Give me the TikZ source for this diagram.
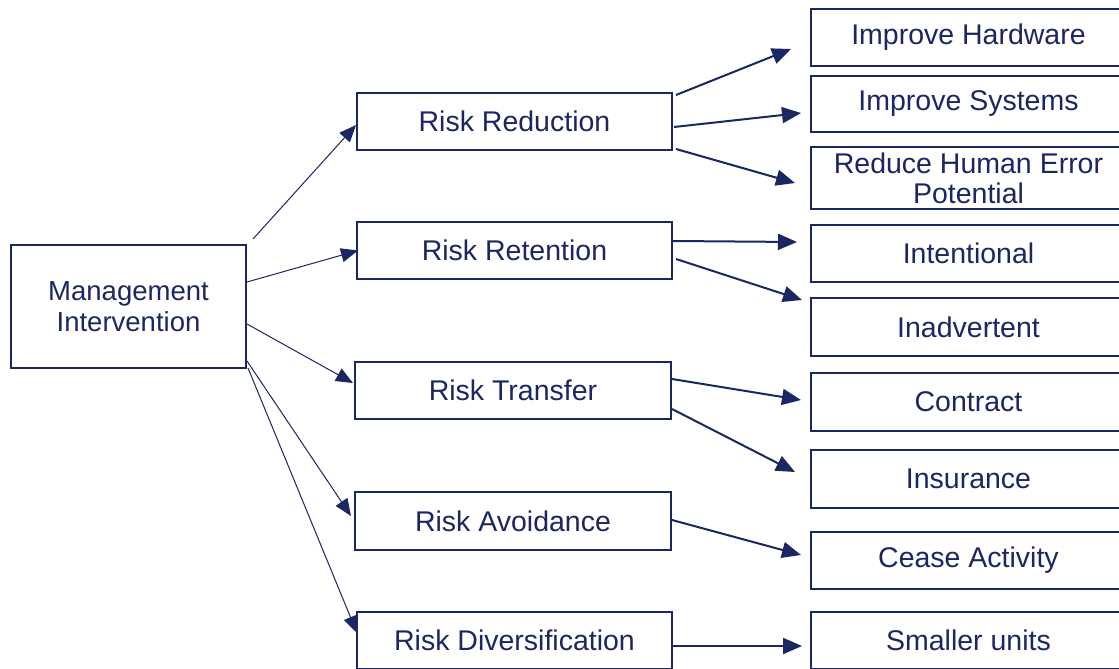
\documentclass[tikz,border=0pt]{standalone}
\usepackage{fontspec}
\setmainfont{Liberation Sans}
\usetikzlibrary{arrows.meta}
\definecolor{navy}{RGB}{27,38,98}
\begin{document}
\begin{tikzpicture}[x=1pt,y=-1pt,
  box/.style={draw=navy,line width=2pt,rectangle,inner sep=0pt,align=center,
    text=navy,font=\fontsize{28.5}{30}\selectfont},
  mid/.style={box,minimum width=315pt,minimum height=57pt},
  rgt/.style={box,minimum width=315pt,minimum height=57pt},
  thinarr/.style={draw=navy,line width=1pt,-{Triangle[length=17pt,width=14pt]}},
  thickarr/.style={draw=navy,line width=2pt,-{Triangle[length=19pt,width=16pt]}}]
\useasboundingbox (0,0) rectangle (1119,669);
\clip (0,0) rectangle (1119,669);
\fill[white] (0,0) rectangle (1119,669);
% left
\node[box,minimum width=235pt,minimum height=123pt,font=\fontsize{27.5}{31}\selectfont] (mgmt) at (128.5,306.5) {Management\\Intervention};
% middle
\node[mid] (rred) at (514.5,121.5) {Risk Reduction};
\node[mid] (rret) at (514.5,250.5) {Risk Retention};
\node[mid,minimum width=316pt] (rtra) at (513,390.5) {Risk Transfer};
\node[mid,minimum width=316pt,minimum height=58pt] (ravo) at (513,521) {Risk Avoidance};
\node[mid] (rdiv) at (514.5,640.5) {Risk Diversification};
% right
\node[rgt] (hw) at (968.5,37.5) {Improve Hardware};
\node[rgt,minimum height=56pt] (sys) at (968.5,104) {Improve Systems};
\node[rgt,minimum height=62pt] (hum) at (968.5,178) {Reduce Human Error\\Potential};
\node[rgt] (int) at (968.5,253.5) {Intentional};
\node[rgt,minimum height=58pt] (inad) at (968.5,327) {Inadvertent};
\node[rgt,minimum height=58pt] (con) at (968.5,402) {Contract};
\node[rgt,minimum height=58pt] (ins) at (968.5,479) {Insurance};
\node[rgt] (cea) at (968.5,560.5) {Cease Activity};
\node[rgt] (sma) at (968.5,640.5) {Smaller units};
% connectors from management
\draw[thinarr] ([shift={(6,-5)}]mgmt.north east) -- ([shift={(0,3.5)}]rred.west);
\draw[thinarr] ([shift={(0,-24.5)}]mgmt.east) -- ([shift={(2,0)}]rret.west);
\draw[thinarr] ([shift={(0,17.5)}]mgmt.east) -- ([shift={(-1,-7.5)}]rtra.west);
\draw[thinarr] ([shift={(0,-8)}]mgmt.south east) -- ([shift={(-3,-5)}]ravo.west);
\draw[thinarr] ([shift={(1,-1)}]mgmt.south east) -- ([shift={(1,-7.5)}]rdiv.west);
% connectors from middle column
\draw[thickarr] ([shift={(3,3)}]rred.north east) -- ([shift={(-19,11.5)}]hw.west);
\draw[thickarr] ([shift={(1,5.5)}]rred.east) -- ([shift={(-9,9)}]sys.west);
\draw[thickarr] ([shift={(3,-2)}]rred.south east) -- ([shift={(-15,5)}]hum.west);
\draw[thickarr] ([shift={(0,-9.5)}]rret.east) -- ([shift={(-13,-11.5)}]int.west);
\draw[thickarr] ([shift={(3,8.5)}]rret.east) -- ([shift={(-8,-27)}]inad.west);
\draw[thickarr] ([shift={(0,-11.5)}]rtra.east) -- ([shift={(-9,-2)}]con.west);
\draw[thickarr] ([shift={(0,18.5)}]rtra.east) -- ([shift={(-15,-7)}]ins.west);
\draw[thickarr] ([shift={(0,-1)}]ravo.east) -- ([shift={(-9,-5.5)}]cea.west);
\draw[thickarr] ([shift={(-2,5.5)}]rdiv.east) -- ([shift={(-8,5.5)}]sma.west);
\end{tikzpicture}
\end{document}
